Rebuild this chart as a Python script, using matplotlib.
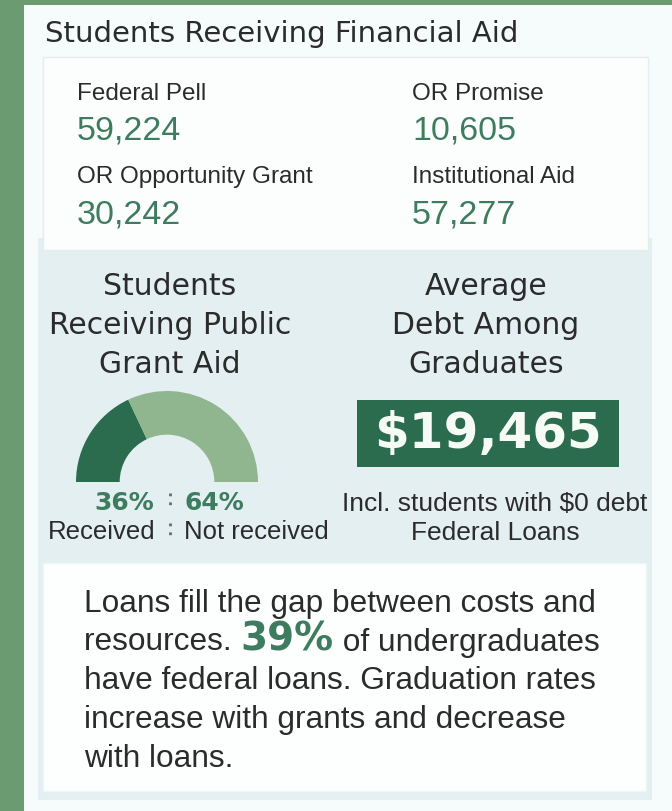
import matplotlib
matplotlib.use("Agg")
import matplotlib.pyplot as plt
from matplotlib.patches import Rectangle

# data read from the infographic
aid_labels = ["Federal Pell", "OR Opportunity Grant", "OR Promise", "Institutional Aid"]
aid_counts = [59224, 30242, 10605, 57277]
grant_shares = [36, 64]
grant_share_labels = ["Received", "Not received"]
avg_debt = 19465
loan_share = 39

GREEN_EDGE = "#6b9b70"
DARK = "#2b6b4e"
LIGHT = "#8fb68f"
NUM_GREEN = "#3e7c5f"
TEXT = "#2b2b2b"
SANS = "Liberation Sans"
WIDE = "DejaVu Sans"

W, H = 672, 811
fig = plt.figure(figsize=(W / 100, H / 100), dpi=100)
fig.patch.set_facecolor(GREEN_EDGE)
ax = fig.add_axes([0, 0, 1, 1])
ax.set_xlim(0, W)
ax.set_ylim(H, 0)
ax.axis("off")

# panels
ax.add_patch(Rectangle((24, 5), W - 24, H - 5, facecolor="#f6fbfb", edgecolor="none"))
ax.add_patch(Rectangle((38, 238), 614, 562, facecolor="#e3eff1", edgecolor="none"))
ax.add_patch(Rectangle((43, 57), 605, 193, facecolor="#fcfefe", edgecolor="#e3eeee", lw=1))
ax.add_patch(Rectangle((43, 563), 603, 228, facecolor="#fdfefe", edgecolor="#eef6f6", lw=1))

ax.text(45, 42, "Students Receiving Financial Aid", family=WIDE, fontsize=21,
        color=TEXT, va="baseline")

# aid counts, two columns
col_x = [77, 77, 412, 412]
lab_y = [100, 183, 100, 183]
for lab, n, x, y in zip(aid_labels, aid_counts, col_x, lab_y):
    ax.text(x, y, lab, family=SANS, fontsize=17.5, color=TEXT, va="baseline")
    ax.text(x, y + 40, f"{n:,}", family=SANS, fontsize=24.5, color=NUM_GREEN,
            va="baseline")

# headings
for i, line in enumerate(["Students", "Receiving Public", "Grant Aid"]):
    ax.text(170, 295 + 39 * i, line, family=WIDE, fontsize=21.5, color=TEXT,
            ha="center", va="baseline")
for i, line in enumerate(["Average", "Debt Among", "Graduates"]):
    ax.text(486, 295 + 39 * i, line, family=WIDE, fontsize=21.5, color=TEXT,
            ha="center", va="baseline")

# half donut gauge
cx, cy, r = 167, 482, 91
gax = fig.add_axes([(cx - r) / W, 1 - (cy + r) / H, 2 * r / W, 2 * r / H])
gax.pie(grant_shares + [sum(grant_shares)], colors=[DARK, LIGHT, "none"],
        startangle=180, counterclock=False,
        wedgeprops=dict(width=0.48, edgecolor="none"))
gax.set_xlim(-1, 1)
gax.set_ylim(-1, 1)
gax.axis("off")

ax.text(154, 510, f"{grant_shares[0]}%", family=WIDE, fontsize=18, weight="bold",
        color=NUM_GREEN, ha="right", va="baseline")
ax.text(185, 510, f"{grant_shares[1]}%", family=WIDE, fontsize=18, weight="bold",
        color=NUM_GREEN, ha="left", va="baseline")
ax.text(156, 539, grant_share_labels[0], family=SANS, fontsize=18.5, color=TEXT,
        ha="right", va="baseline")
ax.text(184, 539, grant_share_labels[1], family=SANS, fontsize=18.5, color=TEXT,
        ha="left", va="baseline")
ax.plot([170, 170], [493, 510], ls=(0, (1, 2.2)), lw=2, color="#5f6f6f")
ax.plot([170, 170], [523, 540], ls=(0, (1, 2.2)), lw=2, color="#5f6f6f")

# average debt box
ax.add_patch(Rectangle((357, 400), 262, 67, facecolor=DARK, edgecolor="none"))
ax.text(488, 434, f"${avg_debt:,}", family=WIDE, fontsize=36, weight="bold",
        color="#f6fbf6", ha="center", va="center")
ax.text(495, 511, "Incl. students with $0 debt", family=SANS, fontsize=19,
        color=TEXT, ha="center", va="baseline")
ax.text(495, 540, "Federal Loans", family=SANS, fontsize=19, color=TEXT,
        ha="center", va="baseline")

# paragraph with highlighted share
fig.canvas.draw()
rend = fig.canvas.get_renderer()
body = dict(family=SANS, fontsize=22.8, color=TEXT, va="baseline")
base = [612, 650.5, 689, 728, 767]
lines = ["Loans fill the gap between costs and", None,
         "have federal loans. Graduation rates",
         "increase with grants and decrease", "with loans."]
for y, line in zip(base, lines):
    if line is not None:
        ax.text(84, y, line, **body)

x = 84
t = ax.text(x, base[1], "resources. ", **body)
x += t.get_window_extent(rend).width
t = ax.text(x, base[1], f"{loan_share}%", family=WIDE, fontsize=28, weight="bold",
            color=NUM_GREEN, va="baseline")
x += t.get_window_extent(rend).width
ax.text(x, base[1], " of undergraduates", **body)

fig.savefig("out.png", dpi=100, facecolor=fig.get_facecolor())
